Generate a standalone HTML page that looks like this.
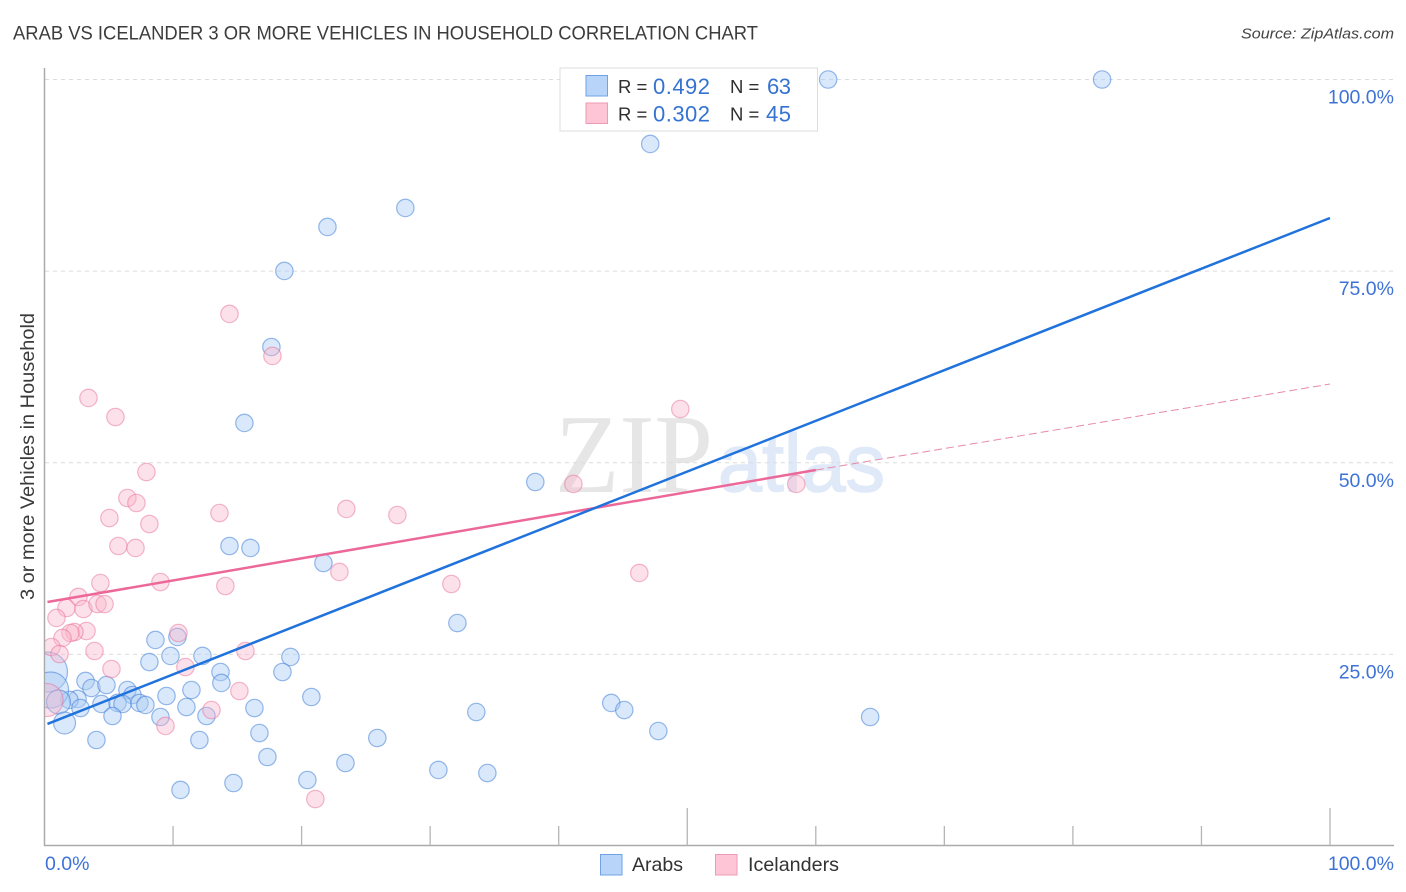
<!DOCTYPE html>
<html lang="en">
<head>
<meta charset="utf-8">
<title>Arab vs Icelander 3 or More Vehicles in Household Correlation Chart</title>
<style>
html,body{margin:0;padding:0;background:#fff;}
svg{display:block;font-family:"Liberation Sans",sans-serif;}
</style>
</head>
<body>
<svg id="chart" xmlns="http://www.w3.org/2000/svg" width="1406" height="892" viewBox="0 0 1406 892">
  <defs>
    <clipPath id="plot-clip"><rect x="45" y="60" width="1350" height="786"/></clipPath>
  </defs>
  <text x="13" y="39.5" font-size="19" fill="#3c3c3c" textLength="745" lengthAdjust="spacingAndGlyphs">ARAB VS ICELANDER 3 OR MORE VEHICLES IN HOUSEHOLD CORRELATION CHART</text>
  <text x="1394" y="38.5" font-size="15" font-style="italic" fill="#444" text-anchor="end" textLength="153" lengthAdjust="spacingAndGlyphs">Source: ZipAtlas.com</text>
  <text transform="translate(34,456.5) rotate(-90)" font-size="19.5" fill="#3a3a3a" text-anchor="middle" textLength="287" lengthAdjust="spacingAndGlyphs">3 or more Vehicles in Household</text>

  <g id="watermark">
    <text x="555" y="492" font-family="'Liberation Serif',serif" font-size="112" fill="#e6e6e6" textLength="158" lengthAdjust="spacingAndGlyphs">ZIP</text>
    <text x="718" y="491" font-family="'Liberation Sans',sans-serif" font-size="82" fill="#dfe9f8" stroke="#dfe9f8" stroke-width="1.5" textLength="167" lengthAdjust="spacingAndGlyphs">atlas</text>
  </g>

  <g id="grid"></g>
  <g id="axes"></g>
  <g id="arab-points" clip-path="url(#plot-clip)"></g>
  <g id="icelander-points" clip-path="url(#plot-clip)"></g>
  <g id="trends"></g>
  <g id="tick-labels"></g>

  <g>
    <rect x="560" y="68" width="257.5" height="63" fill="#fff" stroke="#ddd" stroke-width="1"/>
    <rect x="586" y="75.5" width="21.5" height="20.5" fill="#b8d4f8" stroke="#6fa3e4" stroke-width="1"/>
    <text x="618" y="93" font-size="18.5" fill="#2f2f2f">R =</text>
    <text x="653" y="94" font-size="22" fill="#3572d2" textLength="57">0.492</text>
    <text x="730" y="93" font-size="18.5" fill="#2f2f2f">N =</text>
    <text x="767" y="94" font-size="22" fill="#3572d2" textLength="24">63</text>
    <rect x="586" y="103" width="21.5" height="20.5" fill="#fdc5d6" stroke="#ee9ab4" stroke-width="1"/>
    <text x="618" y="120.5" font-size="18.5" fill="#2f2f2f">R =</text>
    <text x="653" y="121.5" font-size="22" fill="#3572d2" textLength="57">0.302</text>
    <text x="730" y="120.5" font-size="18.5" fill="#2f2f2f">N =</text>
    <text x="766" y="121.5" font-size="22" fill="#3572d2" textLength="25">45</text>
  </g>

  <g>
    <g>
      <rect x="600.5" y="854.5" width="21.5" height="20.5" fill="#b8d4f8" stroke="#6fa3e4" stroke-width="1"/>
      <text x="632" y="871" font-size="19.5" fill="#333" textLength="51" lengthAdjust="spacingAndGlyphs">Arabs</text>
    </g>
    <g>
      <rect x="715.5" y="854.5" width="21.5" height="20.5" fill="#fdc5d6" stroke="#ee9ab4" stroke-width="1"/>
      <text x="748" y="871" font-size="19.5" fill="#333" textLength="91" lengthAdjust="spacingAndGlyphs">Icelanders</text>
    </g>
  </g>
</svg>
<script>
// ---- Chart data (percent values) ----
const arabX = [60.96,82.27,47.12,28.07,22.01,18.66,17.65,15.55,38.18,14.39,16.02,21.70,32.12,8.63,10.34,8.16,9.80,12.29,19.13,13.69,13.76,18.51,3.19,3.65,4.82,6.45,6.84,11.43,9.49,20.76,2.57,1.94,0.23,0.47,1.09,4.43,2.80,5.68,6.07,7.39,7.85,11.04,16.33,33.59,44.09,45.10,64.23,5.29,9.02,12.60,1.56,4.04,12.05,16.72,47.75,25.89,17.34,23.41,30.64,34.45,20.45,14.70,10.58];
const arabY = [100,100,91.59,83.24,80.76,75.02,65.10,55.19,47.49,39.14,38.88,36.92,29.09,26.88,27.27,24.00,24.79,24.79,24.66,22.70,21.27,22.70,21.53,20.61,21.00,20.35,19.70,20.35,19.57,19.44,19.18,19.05,22.70,20.35,18.79,18.53,18.00,18.66,18.53,18.66,18.40,18.13,18.00,17.48,18.66,17.74,16.83,16.96,16.83,16.96,16.05,13.83,13.83,14.74,15.00,14.09,11.61,10.83,9.92,9.52,8.61,8.22,7.31];
const arabWeight = [1,1,1,1,1,1,1,1,1,1,1,1,1,1,1,1,1,1,1,1,1,1,1,1,1,1,1,1,1,1,1,1,5.3,4.3,1.9,1,1,1,1,1,1,1,1,1,1,1,1,1,1,1,1.6,1,1,1,1,1,1,1,1,1,1,1,1];
const icelanderX = [14.39,17.73,3.42,5.52,49.46,7.93,6.45,7.15,41.14,58.48,13.61,5.05,8.16,23.48,27.45,5.75,7.08,22.94,46.27,31.65,4.35,9.02,14.07,2.64,1.71,3.03,4.12,4.67,0.93,10.42,3.27,2.33,2.02,1.40,0.54,1.17,3.89,15.63,5.21,10.96,15.16,12.99,9.41,21.07,0.16];
const icelanderY = [69.41,63.93,58.45,55.97,57.01,48.79,45.40,44.75,47.23,47.23,43.44,42.79,42.01,43.97,43.18,39.14,38.88,35.75,35.62,34.18,34.31,34.44,33.92,32.49,31.05,30.92,31.57,31.57,29.75,27.79,28.05,27.92,27.79,27.14,25.96,25.05,25.44,25.44,23.09,23.35,20.22,17.74,15.66,6.13,19.05];
const icelanderWeight = [1,1,1,1,1,1,1,1,1,1,1,1,1,1,1,1,1,1,1,1,1,1,1,1,1,1,1,1,1,1,1,1,1,1,1,1,1,1,1,1,1,1,1,1,3.6];
const arabTrendX = [0.23,100];
const arabTrendY = [15.92,81.93];
const icelanderTrendX = [0.23,60];
const icelanderTrendY = [31.83,49.05];
const icelanderExtensionX = [60,100];
const icelanderExtensionY = [49.05,60.27];
const yTickValues = [25,50,75,100];
const yTickLabels = ["25.0%","50.0%","75.0%","100.0%"];
const xTickValues = [10,20,30,40,50,60,70,80,90,100];
const xMajorTickValues = [50,100];
const xEndValues = [0,100];
const xEndLabels = ["0.0%","100.0%"];

// ---- Axis functions ----
function xScale(v){ return 44.5 + v * 12.855; }
function yScale(v){ return 846 - v * 7.665; }
function rScale(w){ return 8.7 * Math.sqrt(w); }

const NS = "http://www.w3.org/2000/svg";
function make(parent, tag, attrs){
  const el = document.createElementNS(NS, tag);
  for (const k in attrs) el.setAttribute(k, attrs[k]);
  parent.appendChild(el);
  return el;
}

// Grid lines
const gridG = document.getElementById('grid');
yTickValues.forEach(function(v){
  const el = make(gridG, 'line', {x1:45, x2:1394, y1:yScale(v), y2:yScale(v), stroke:'#dcdcdc', 'stroke-width':1, 'stroke-dasharray':'4 4'});
  
  
});

// Axes
const axesG = document.getElementById('axes');
const yAxisLine = make(axesG, 'line', {x1:44.5, x2:44.5, y1:68, y2:846, stroke:'#aaa', 'stroke-width':1.5});


const xAxisLine = make(axesG, 'line', {x1:44, x2:1394, y1:845.5, y2:845.5, stroke:'#aaa', 'stroke-width':1.5});


xTickValues.forEach(function(v){
  const top = xMajorTickValues.indexOf(v) >= 0 ? 808 : 826;
  const el = make(axesG, 'line', {x1:xScale(v), x2:xScale(v), y1:top, y2:845.5, stroke:'#b5b5b5', 'stroke-width':1.3});
  
  
});

// Points
function drawPoints(groupId, xs, ys, ws, fill, stroke, nameBase){
  const g = document.getElementById(groupId);
  xs.forEach(function(x, i){
    const c = make(g, 'circle', {cx:xScale(x), cy:yScale(ys[i]), r:rScale(ws[i]), fill:fill, stroke:stroke, 'stroke-width':1.2});
    
    
  });
}
drawPoints('arab-points', arabX, arabY, arabWeight, 'rgba(170,203,245,0.45)', 'rgba(58,122,214,0.52)', 'arabs');
drawPoints('icelander-points', icelanderX, icelanderY, icelanderWeight, 'rgba(250,180,202,0.40)', 'rgba(232,112,152,0.50)', 'icelanders');

// Trend lines
const trendG = document.getElementById('trends');
const extLine = make(trendG, 'line', {x1:xScale(icelanderExtensionX[0]), y1:yScale(icelanderExtensionY[0]), x2:xScale(icelanderExtensionX[1]), y2:yScale(icelanderExtensionY[1]), stroke:'#e88aa8', 'stroke-width':1, 'stroke-dasharray':'8 4'});


const iceLine = make(trendG, 'line', {x1:xScale(icelanderTrendX[0]), y1:yScale(icelanderTrendY[0]), x2:xScale(icelanderTrendX[1]), y2:yScale(icelanderTrendY[1]), stroke:'#ec6899', 'stroke-width':2.5});


const arabLine = make(trendG, 'line', {x1:xScale(arabTrendX[0]), y1:yScale(arabTrendY[0]), x2:xScale(arabTrendX[1]), y2:yScale(arabTrendY[1]), stroke:'#2072dc', 'stroke-width':2.5});



// Tick labels
const labelG = document.getElementById('tick-labels');
yTickValues.forEach(function(v, i){
  const t = make(labelG, 'text', {x:1394, y:yScale(v) + 24, 'font-size':19.5, fill:'#3d72d6', 'text-anchor':'end'});
  t.textContent = yTickLabels[i];
  
  
});
xEndValues.forEach(function(v, i){
  const isEnd = v === 100;
  const t = make(labelG, 'text', {x:isEnd ? 1394 : 45, y:870, 'font-size':19.5, fill:'#3d72d6', 'text-anchor':isEnd ? 'end' : 'start'});
  t.textContent = xEndLabels[i];
  
  
});
</script>
</body>
</html>
